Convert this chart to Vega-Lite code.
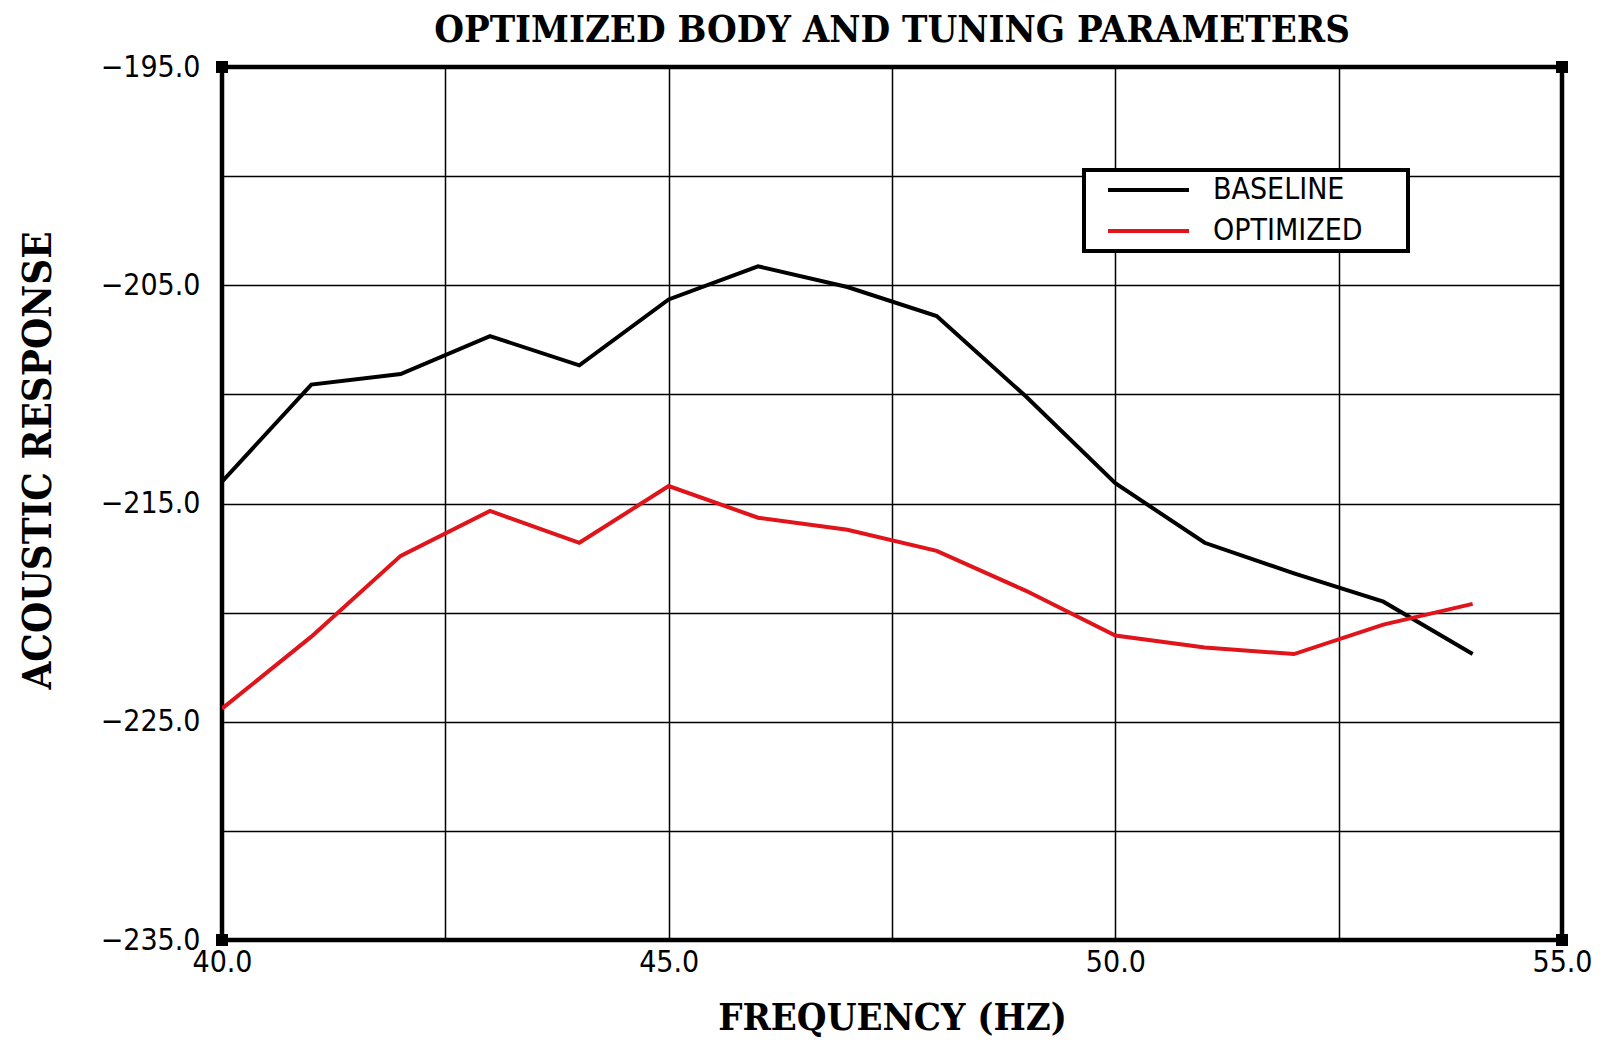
{
  "$schema": "https://vega.github.io/schema/vega-lite/v6.json",
  "width": 1340,
  "height": 873,
  "autosize": {"type": "none"},
  "padding": {"left": 222, "top": 67, "right": 41, "bottom": 100},
  "background": "white",
  "title": {
    "text": "OPTIMIZED BODY AND TUNING PARAMETERS",
    "font": "DejaVu Serif Condensed",
    "fontWeight": "bold",
    "fontSize": 38,
    "color": "black",
    "anchor": "middle",
    "offset": 2
  },
  "layer": [
    {
      "data": {
        "values": [
          {"f": 40, "r": -214.0, "s": "BASELINE"},
          {"f": 41, "r": -209.55, "s": "BASELINE"},
          {"f": 42, "r": -209.07, "s": "BASELINE"},
          {"f": 43, "r": -207.33, "s": "BASELINE"},
          {"f": 44, "r": -208.67, "s": "BASELINE"},
          {"f": 45, "r": -205.65, "s": "BASELINE"},
          {"f": 46, "r": -204.13, "s": "BASELINE"},
          {"f": 47, "r": -205.08, "s": "BASELINE"},
          {"f": 48, "r": -206.41, "s": "BASELINE"},
          {"f": 49, "r": -210.1, "s": "BASELINE"},
          {"f": 50, "r": -214.07, "s": "BASELINE"},
          {"f": 51, "r": -216.8, "s": "BASELINE"},
          {"f": 52, "r": -218.2, "s": "BASELINE"},
          {"f": 53, "r": -219.5, "s": "BASELINE"},
          {"f": 54, "r": -221.9, "s": "BASELINE"},
          {"f": 40, "r": -224.4, "s": "OPTIMIZED"},
          {"f": 41, "r": -221.1, "s": "OPTIMIZED"},
          {"f": 42, "r": -217.4, "s": "OPTIMIZED"},
          {"f": 43, "r": -215.34, "s": "OPTIMIZED"},
          {"f": 44, "r": -216.8, "s": "OPTIMIZED"},
          {"f": 45, "r": -214.2, "s": "OPTIMIZED"},
          {"f": 46, "r": -215.65, "s": "OPTIMIZED"},
          {"f": 47, "r": -216.2, "s": "OPTIMIZED"},
          {"f": 48, "r": -217.17, "s": "OPTIMIZED"},
          {"f": 49, "r": -219.0, "s": "OPTIMIZED"},
          {"f": 50, "r": -221.05, "s": "OPTIMIZED"},
          {"f": 51, "r": -221.6, "s": "OPTIMIZED"},
          {"f": 52, "r": -221.9, "s": "OPTIMIZED"},
          {"f": 53, "r": -220.55, "s": "OPTIMIZED"},
          {"f": 54, "r": -219.6, "s": "OPTIMIZED"}
        ]
      },
      "mark": {"type": "line", "strokeWidth": 4, "clip": true},
      "encoding": {
        "x": {
          "field": "f",
          "type": "quantitative",
          "scale": {"domain": [40, 55], "nice": false, "zero": false},
          "axis": {
            "title": "FREQUENCY (HZ)",
            "values": [40, 42.5, 45, 47.5, 50, 52.5, 55],
            "labelExpr": "datum.value % 5 == 0 ? format(datum.value, '.1f') : ''",
            "labelPadding": 7,
            "titlePadding": 22
          }
        },
        "y": {
          "field": "r",
          "type": "quantitative",
          "scale": {"domain": [-235, -195], "nice": false, "zero": false},
          "axis": {
            "title": "ACOUSTIC RESPONSE",
            "values": [-235, -230, -225, -220, -215, -210, -205, -200, -195],
            "labelExpr": "datum.value % 10 != 0 ? format(datum.value, '.1f') : ''",
            "labelPadding": 22,
            "titleFontSize": 40,
            "titleAngle": 270,
            "titleX": -184,
            "titleY": 393,
            "titleAlign": "center",
            "titleBaseline": "middle"
          }
        },
        "color": {
          "field": "s",
          "type": "nominal",
          "scale": {"domain": ["BASELINE", "OPTIMIZED"], "range": ["#000000", "#e0141b"]},
          "legend": {
            "orient": "none",
            "legendX": 862,
            "legendY": 103,
            "title": null,
            "strokeColor": "black",
            "fillColor": "white",
            "padding": 5,
            "symbolType": "stroke",
            "symbolSize": 6561,
            "symbolStrokeWidth": 4,
            "symbolOffset": 17,
            "clipHeight": 30,
            "labelFont": "DejaVu Sans Condensed",
            "labelFontSize": 30,
            "labelColor": "black",
            "labelOffset": 22,
            "labelLimit": 400,
            "rowPadding": 11,
            "labelExpr": "datum.label + '\u2800\u2800'"
          }
        }
      }
    },
    {
      "data": {
        "values": [
          {"f": 40, "r": -195},
          {"f": 55, "r": -195},
          {"f": 40, "r": -235},
          {"f": 55, "r": -235}
        ]
      },
      "mark": {"type": "point", "shape": "square", "filled": true, "color": "black", "size": 144, "opacity": 1},
      "encoding": {
        "x": {"field": "f", "type": "quantitative"},
        "y": {"field": "r", "type": "quantitative"}
      }
    }
  ],
  "config": {
    "view": {"stroke": "black", "strokeWidth": 4.5},
    "legend": {"strokeWidth": 4},
    "axis": {
      "grid": true,
      "gridColor": "black",
      "gridWidth": 1.5,
      "gridOpacity": 1,
      "ticks": false,
      "domain": false,
      "labelFont": "DejaVu Sans Condensed",
      "labelFontSize": 30,
      "labelColor": "black",
      "labelFlush": false,
      "labelOverlap": false,
      "labelBound": false,
      "titleFont": "DejaVu Serif Condensed",
      "titleFontWeight": "bold",
      "titleFontSize": 38,
      "titleColor": "black"
    }
  }
}
